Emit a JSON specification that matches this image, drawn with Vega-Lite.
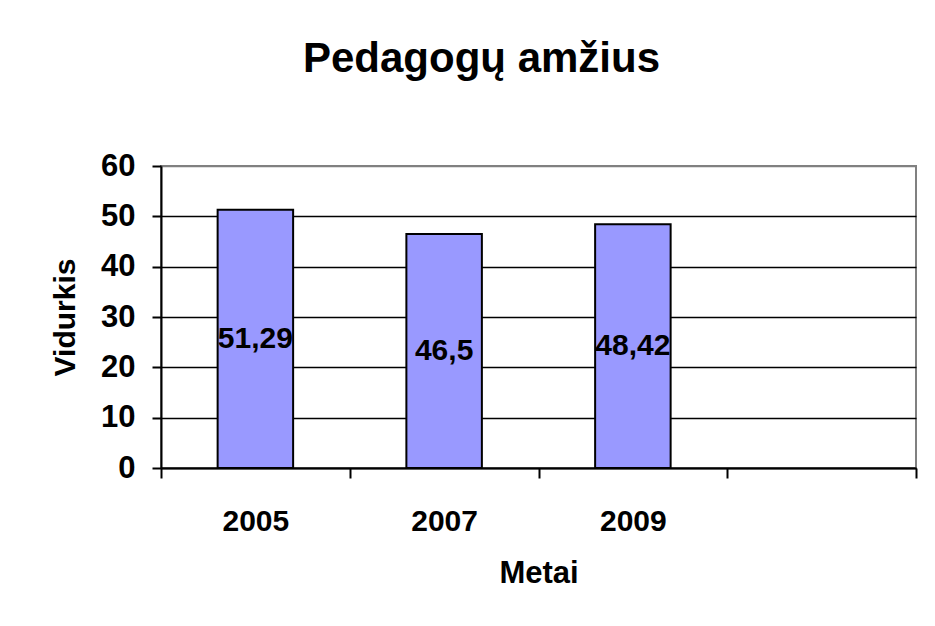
{
  "$schema": "https://vega.github.io/schema/vega-lite/v6.json",
  "width": 755,
  "height": 302,
  "autosize": {"type": "none"},
  "padding": {"left": 161, "top": 166, "right": 19, "bottom": 158},
  "background": "white",
  "title": {
    "text": "Pedagogų amžius",
    "font": "Liberation Sans",
    "fontSize": 42,
    "fontWeight": "bold",
    "color": "black",
    "anchor": "middle",
    "frame": "group",
    "baseline": "alphabetic",
    "dx": -57,
    "offset": 36
  },
  "config": {
    "font": "Liberation Sans",
    "view": {"stroke": "#808080", "strokeWidth": 2},
    "locale": {
      "number": {"decimal": ",", "thousands": " ", "grouping": [3], "currency": ["", " €"]}
    }
  },
  "data": {
    "values": [
      {"year": "2005", "value": 51.29},
      {"year": "2007", "value": 46.5},
      {"year": "2009", "value": 48.42}
    ]
  },
  "layer": [
    {
      "mark": {
        "type": "bar",
        "fill": "#9999ff",
        "stroke": "black",
        "strokeWidth": 2,
        "width": {"band": 0.4}
      },
      "encoding": {
        "x": {
          "field": "year",
          "type": "ordinal",
          "scale": {"domain": ["2005", "2007", "2009", " "], "paddingInner": 0, "paddingOuter": 0},
          "axis": {
            "title": "Metai",
            "titleFont": "Liberation Sans",
            "titleFontSize": 31,
            "titleFontWeight": "bold",
            "titleColor": "black",
            "titlePadding": 22,
            "labelAngle": 0,
            "labelFont": "Liberation Sans",
            "labelFontSize": 30,
            "labelFontWeight": "bold",
            "labelColor": "black",
            "labelPadding": 28,
            "tickBand": "extent",
            "tickSize": 10,
            "tickWidth": 2,
            "tickColor": "black",
            "domainColor": "black",
            "domainWidth": 2,
            "grid": false
          }
        },
        "y": {
          "field": "value",
          "type": "quantitative",
          "scale": {"domain": [0, 60]},
          "axis": {
            "title": "Vidurkis",
            "titleFont": "Liberation Sans",
            "titleFontSize": 30,
            "titleFontWeight": "bold",
            "titleColor": "black",
            "titlePadding": 20,
            "values": [0, 10, 20, 30, 40, 50, 60],
            "labelFont": "Liberation Sans",
            "labelFontSize": 31,
            "labelFontWeight": "bold",
            "labelColor": "black",
            "labelPadding": 17,
            "tickSize": 9,
            "tickWidth": 2,
            "tickColor": "black",
            "domainColor": "black",
            "domainWidth": 2,
            "grid": true,
            "gridWidth": 1.5,
            "gridColor": {"condition": {"test": "datum.value >= 60", "value": "#808080"}, "value": "black"}
          }
        }
      }
    },
    {
      "transform": [{"calculate": "datum.value / 2", "as": "mid"}],
      "mark": {
        "type": "text",
        "font": "Liberation Sans",
        "fontSize": 30,
        "fontWeight": "bold",
        "color": "black",
        "baseline": "middle",
        "align": "center"
      },
      "encoding": {
        "x": {"field": "year", "type": "ordinal"},
        "y": {"field": "mid", "type": "quantitative"},
        "text": {"field": "value", "type": "quantitative", "format": "~g"}
      }
    }
  ]
}
